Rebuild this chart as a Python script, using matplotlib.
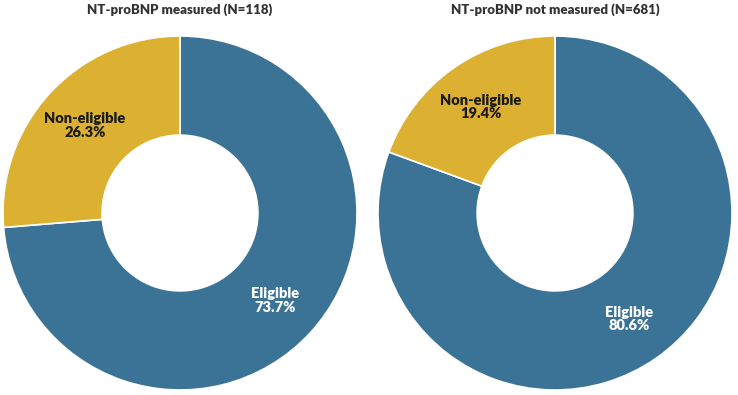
import numpy as np
import matplotlib
matplotlib.use("Agg")
import matplotlib.pyplot as plt

plt.rcParams['font.family'] = ['Lato', 'DejaVu Sans']

titles = ["NT-proBNP measured (N=118)", "NT-proBNP not measured (N=681)"]
categories = ["Eligible", "Non-eligible"]
eligible_pct = [73.7, 80.6]
non_eligible_pct = [26.3, 19.4]

colors = ["#3b7396", "#dcb132"]
text_colors = ["white", "#1a1a1a"]

W, H = 738, 395
fig = plt.figure(figsize=(W / 100, H / 100), dpi=100)

centers_x = [180, 555]
cy, r = 213, 177

for i in range(2):
  ax = fig.add_axes([(centers_x[i] - r) / W, (H - cy - r) / H, 2 * r / W, 2 * r / H])
  vals = [eligible_pct[i], non_eligible_pct[i]]
  wedges, _ = ax.pie(vals, colors=colors, startangle=90, counterclock=False,
                     radius=1.0, wedgeprops=dict(width=0.56, edgecolor="white", linewidth=1.2))
  ax.set_xlim(-1, 1)
  ax.set_ylim(-1, 1)
  ax.set_aspect("equal")
  ax.axis("off")
  # labels in the middle of the ring
  for w, cat, v, tc in zip(wedges, categories, vals, text_colors):
    ang = np.deg2rad((w.theta1 + w.theta2) / 2)
    rr = 0.73
    ax.text(rr * np.cos(ang), rr * np.sin(ang), "{}\n{:.1f}%".format(cat, v),
            ha="center", va="center", color=tc, fontsize=10.5, fontweight="heavy",
            linespacing=1.05)
  fig.text(centers_x[i] / W, 1 - 10 / H, titles[i], ha="center", va="center",
           fontsize=9.5, fontweight="heavy", color="#333333")

fig.savefig("out.png", dpi=100)
